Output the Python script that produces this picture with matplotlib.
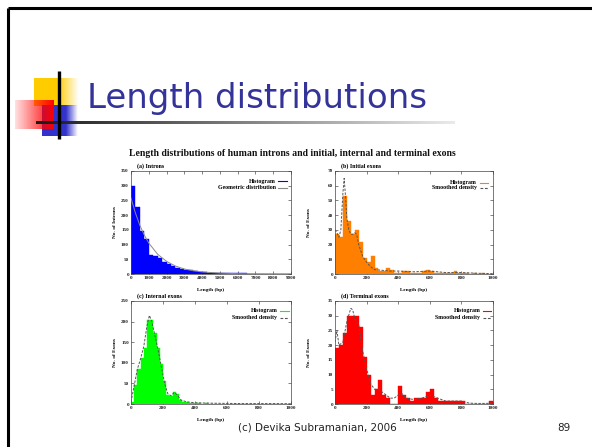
import numpy as np
import matplotlib
matplotlib.use('Agg')
import matplotlib.pyplot as plt

# ---------------- data ----------------
slide_title = "Length distributions"
chart_title = "Length distributions of human introns and initial, internal and terminal exons"
footer_text = "(c) Devika Subramanian, 2006"
page_number = "89"

# (a) introns, bins of 250 bp
intron_bin_width = 250
intron_counts = [300, 228, 147, 118, 65, 60, 55, 42, 35, 28, 22, 18, 14, 12, 10, 8,
                 7, 5, 4, 4, 3, 3, 2, 2, 2, 2, 1, 1, 1, 1, 1, 1, 0, 1, 0, 0]
intron_fit_x = [0, 250, 500, 750, 1000, 1500, 2000, 2500, 3000, 3500, 4000, 5000, 6000, 7000, 8000, 9000]
intron_fit_y = [258, 207, 165, 132, 105, 67, 43, 27, 17, 11, 7, 3, 1.2, 0.5, 0.2, 0.1]

# (b) initial exons, bins of 25 bp
initial_bin_width = 25
initial_counts = [27, 25, 53, 36, 27, 30, 22, 11, 8, 12, 4, 2, 2, 4, 3, 1, 1, 2, 2, 1,
                  1, 1, 2, 3, 2, 1, 1, 1, 1, 1, 2, 1, 1, 1, 0, 1, 0, 1, 0, 0]
initial_dens_x = [0, 12, 25, 37, 50, 58, 65, 75, 87, 100, 112, 125, 137, 150, 175, 200,
                  225, 250, 300, 350, 400, 500, 600, 700, 800, 900, 1000]
initial_dens_y = [30, 28, 25, 30, 55, 65, 55, 38, 30, 27, 27, 28, 27, 20, 12, 8,
                  5, 3, 2.5, 2, 2, 1.5, 2, 1, 1, 0.5, 0.2]

# (c) internal exons, bins of 20 bp
internal_bin_width = 20
internal_counts = [6, 47, 84, 112, 136, 203, 205, 173, 136, 97, 55, 23, 19, 29, 24, 10,
                   6, 4, 3, 3, 2, 2, 1, 2, 1, 1, 1, 1, 1, 1, 1, 1, 0, 1, 0, 1, 0, 1,
                   0, 1, 1, 0, 1, 1, 0, 1, 0, 0, 0, 0]
internal_dens_x = [0, 20, 40, 60, 80, 100, 115, 130, 150, 170, 190, 210, 230, 250, 270,
                   290, 310, 350, 400, 500, 600, 700, 800, 900, 1000]
internal_dens_y = [5, 45, 85, 110, 140, 190, 215, 200, 165, 130, 90, 50, 25, 20, 28,
                   22, 10, 5, 3, 2, 1.5, 1, 1, 1, 0.5]

# (d) terminal exons, bins of 25 bp
terminal_bin_width = 25
terminal_counts = [19, 20, 24, 30, 30, 30, 26, 16, 10, 3, 5, 8, 3, 2, 0, 0, 6, 3, 2, 1,
                   2, 2, 2, 4, 5, 2, 1, 1, 1, 1, 1, 1, 1, 0, 0, 0, 0, 0, 0, 1]
terminal_dens_x = [0, 12, 25, 50, 75, 100, 112, 125, 150, 175, 200, 225, 250, 275, 300,
                   325, 350, 375, 400, 425, 450, 500, 550, 600, 650, 700, 750, 800,
                   850, 900, 950, 1000]
terminal_dens_y = [21, 25, 20, 21, 28, 32.5, 32, 29, 27, 18, 12, 7, 5, 5, 4, 3, 2, 2,
                   3, 3.5, 2, 1.5, 2, 3, 2, 1, 1, 1, 0.3, 0.2, 0.2, 0.3]

panel_titles = ["(a) Introns", "(b) Initial exons", "(c) Internal exons", "(d) Terminal exons"]
y_labels = ["No. of Introns", "No. of Exons", "No. of Exons", "No. of Exons"]
x_label = "Length (bp)"
fit_labels = ["Geometric distribution", "Smoothed density", "Smoothed density", "Smoothed density"]

# ---------------- figure ----------------
W, H = 592, 447
fig = plt.figure(figsize=(W / 100, H / 100), dpi=100)
fig.patch.set_facecolor('white')

bg = fig.add_axes([0, 0, 1, 1])
bg.set_xlim(0, W)
bg.set_ylim(H, 0)
bg.axis('off')

# slide frame
bg.plot([8, W], [8, 8], color='black', lw=2.2, solid_capstyle='butt')
bg.plot([8, 8], [8, H], color='black', lw=2.2, solid_capstyle='butt')

def grad_rect(x0, x1, y0, y1, rgb, alpha_from, alpha_to, solid_until=None, z=1):
    n = 100
    xs = np.linspace(0, 1, n)
    if solid_until is None:
        a = alpha_from + (alpha_to - alpha_from) * xs
    else:
        s = (solid_until - x0) / (x1 - x0)
        a = np.where(xs < s, alpha_from,
                     alpha_from + (alpha_to - alpha_from) * (xs - s) / max(1e-6, 1 - s))
    img = np.zeros((1, n, 4))
    img[..., 0], img[..., 1], img[..., 2] = rgb
    img[0, :, 3] = a
    bg.imshow(img, extent=[x0, x1, y1, y0], aspect='auto', interpolation='bilinear', zorder=z)

# yellow square
grad_rect(34, 79, 78, 106, (1.0, 0.8, 0.0), 1.0, 0.0, solid_until=58, z=1)
# blue square
grad_rect(42, 78, 105, 136, (0.2, 0.2, 0.8), 1.0, 0.0, solid_until=66, z=2)
# red square (fades to the left)
grad_rect(15, 54, 100, 129, (1.0, 0.0, 0.0), 0.12, 1.0, z=3)
# black lines
bg.plot([58.5, 58.5], [71, 139], color='black', lw=2.4, zorder=5, solid_capstyle='butt')
n = 200
line_img = np.zeros((1, n, 4))
g = np.linspace(0.1, 0.92, n)
line_img[0, :, 0] = g
line_img[0, :, 1] = g
line_img[0, :, 2] = g
line_img[0, :, 3] = 1
bg.imshow(line_img, extent=[36, 455, 124.2, 121.6], aspect='auto', zorder=4)
bg.set_xlim(0, W)
bg.set_ylim(H, 0)

# slide title
bg.text(87, 108, slide_title, fontsize=24.5, color='#333399', family='DejaVu Sans',
        ha='left', va='baseline', zorder=6)

# chart title
bg.text(292, 153, chart_title, fontsize=7.0, family='Liberation Serif',
        fontweight='bold', ha='center', va='center', color='#111111')

# footer
bg.text(317, 428, footer_text, fontsize=7.5, family='DejaVu Sans', ha='center',
        va='center', color='#222222')
bg.text(564, 428, page_number, fontsize=7.5, family='DejaVu Sans', ha='center',
        va='center', color='#222222')

# ---------------- panels ----------------
def px_axes(l, r, t, b):
    return fig.add_axes([l / W, 1 - b / H, (r - l) / W, (b - t) / H])

panels = [
    dict(box=(131, 291, 171, 274), counts=intron_counts, bw=intron_bin_width,
         color='#0000ff', fx=intron_fit_x, fy=intron_fit_y, fit_ls='-', fit_color='#8a8a8a',
         xlim=(0, 9000), xticks=range(0, 9001, 1000), ylim=(0, 350), yticks=range(0, 351, 50),
         leg=(0.905, 0.90, 0.835), ylab_x=-0.088),
    dict(box=(335, 493, 171, 274), counts=initial_counts, bw=initial_bin_width,
         color='#ff8000', fx=initial_dens_x, fy=initial_dens_y, fit_ls=(0, (2.5, 1.5)),
         fit_color='#555555', xlim=(0, 1000), xticks=range(0, 1001, 200), ylim=(0, 70),
         yticks=range(0, 71, 10), leg=(0.90, 0.885, 0.835), ylab_x=-0.152),
    dict(box=(131, 291, 301, 404), counts=internal_counts, bw=internal_bin_width,
         color='#00ff00', fx=internal_dens_x, fy=internal_dens_y, fit_ls=(0, (2.5, 1.5)),
         fit_color='#555555', xlim=(0, 1000), xticks=range(0, 1001, 200), ylim=(0, 250),
         yticks=range(0, 251, 50), leg=(0.915, 0.905, 0.835), ylab_x=-0.088),
    dict(box=(335, 493, 301, 404), counts=terminal_counts, bw=terminal_bin_width,
         color='#ff0000', fx=terminal_dens_x, fy=terminal_dens_y, fit_ls=(0, (2.5, 1.5)),
         fit_color='#555555', xlim=(0, 1000), xticks=range(0, 1001, 200), ylim=(0, 35),
         yticks=range(0, 36, 5), leg=(0.92, 0.905, 0.835), ylab_x=-0.152),
]

for i, p in enumerate(panels):
    ax = px_axes(*p['box'])
    lefts = np.arange(len(p['counts'])) * p['bw']
    ax.bar(lefts, p['counts'], width=p['bw'], align='edge', color=p['color'],
           edgecolor=p['color'], linewidth=0.3, zorder=2)
    ax.plot(p['fx'], p['fy'], color=p['fit_color'], lw=0.7, ls=p['fit_ls'], zorder=3)
    ax.set_xlim(*p['xlim'])
    ax.set_ylim(*p['ylim'])
    ax.set_xticks(list(p['xticks']))
    ax.set_yticks(list(p['yticks']))
    ax.tick_params(direction='in', length=2, width=0.4, top=True, right=True,
                   labelsize=3.7, pad=1.5, colors='#222222')
    for lab in ax.get_xticklabels() + ax.get_yticklabels():
        lab.set_family('Liberation Serif')
        lab.set_fontweight('bold')
    for sp in ax.spines.values():
        sp.set_linewidth(0.5)
        sp.set_color('#444444')
    ax.set_xlabel(x_label, fontsize=3.8, family='Liberation Serif', fontweight='bold')
    ax.xaxis.set_label_coords(0.5, -0.14)
    ax.set_ylabel(y_labels[i], fontsize=3.8, family='Liberation Serif', fontweight='bold')
    ax.yaxis.set_label_coords(p['ylab_x'], 0.5)
    ax.text(0.035, 1.015, panel_titles[i], transform=ax.transAxes, fontsize=4.3,
            family='Liberation Serif', fontweight='bold', ha='left', va='bottom')
    tx, y1, y2 = p['leg']
    for lab, yy, col, ls in [("Histogram", y1, p['color'], '-'),
                             (fit_labels[i], y2, p['fit_color'], p['fit_ls'])]:
        ax.text(tx, yy, lab, transform=ax.transAxes, fontsize=4.2,
                family='Liberation Serif', fontweight='bold', ha='right', va='center')
        ax.plot([tx + 0.015, tx + 0.07], [yy, yy], transform=ax.transAxes,
                color=col, lw=0.8, ls=ls, clip_on=False)

fig.savefig('out.png', dpi=100, facecolor='white')
